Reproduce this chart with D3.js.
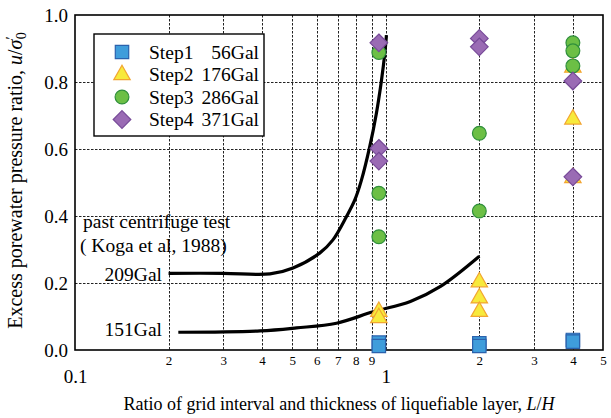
<!DOCTYPE html>
<html>
<head>
<meta charset="utf-8">
<script src="https://cdn.jsdelivr.net/npm/d3@7"></script>
<style>
  html, body { margin: 0; padding: 0; background: #fff; }
  svg text { font-family: "Liberation Serif", "Times New Roman", serif; fill: #000; }
</style>
</head>
<body>
<svg id="chart" width="611" height="418"></svg>
<script>
// Excess porewater pressure ratio vs. L/H for four shaking steps
const seriesNames = ["Step1", "Step2", "Step3", "Step4"];
const seriesGal = ["56Gal", "176Gal", "286Gal", "371Gal"];

// [L/H, u/σ'0]
const step1 = [[0.95, 0.022], [0.95, 0.012], [2, 0.02], [2, 0.012], [4, 0.03], [4, 0.025]];
const step2 = [[0.95, 0.116], [0.95, 0.097], [2, 0.204], [2, 0.156], [2, 0.116], [4, 0.845], [4, 0.69], [4, 0.515]];
const step3 = [[0.95, 0.888], [0.95, 0.468], [0.95, 0.338], [2, 0.647], [2, 0.415], [4, 0.917], [4, 0.893], [4, 0.848]];
const step4 = [[0.95, 0.917], [0.95, 0.602], [0.95, 0.564], [2, 0.93], [2, 0.905], [4, 0.803], [4, 0.517]];

// past centrifuge test curves (Koga et al, 1988)
const curve209 = [[0.2, 0.229], [0.3, 0.229], [0.424, 0.227], [0.503, 0.245], [0.614, 0.29], [0.675, 0.328],
  [0.747, 0.398], [0.795, 0.448], [0.835, 0.507], [0.888, 0.607], [0.933, 0.707], [0.969, 0.806], [0.993, 0.886], [1.005, 0.94]];
const curve151 = [[0.215, 0.053], [0.394, 0.057], [0.516, 0.066], [0.694, 0.08], [0.91, 0.114],
  [1.2, 0.145], [1.5, 0.19], [2.0, 0.28]];

const xMinorTicks = [0.2, 0.3, 0.4, 0.5, 0.6, 0.7, 0.8, 0.9, 2, 3, 4, 5];
const xMajorTicks = [0.1, 1];
const xGrid = [0.2, 0.3, 0.4, 0.5, 0.6, 0.7, 0.8, 0.9, 1, 2, 3, 4];
const yTicks = [0, 0.2, 0.4, 0.6, 0.8, 1.0];
const yGrid = [0.2, 0.4, 0.6, 0.8];

const FONT = '"Liberation Serif", "Times New Roman", serif';
const margin = { left: 75, right: 8, top: 15, bottom: 68 };
const W = 611, H = 418;
const svg = d3.select("#chart");

const x = d3.scaleLog().domain([0.1, 5]).range([margin.left, W - margin.right]);
const y = d3.scaleLinear().domain([0, 1]).range([H - margin.bottom, margin.top]);
const x0 = x.range()[0], x1 = x.range()[1], y0 = y.range()[0], y1 = y.range()[1];

// grid
const grid = svg.append("g").attr("stroke", "#222").attr("stroke-width", 1).attr("stroke-dasharray", "2.5,1.5");
grid.selectAll("line.v").data(xGrid).join("line").attr("class", "v")
  .attr("x1", d => Math.round(x(d)) + 0.5).attr("x2", d => Math.round(x(d)) + 0.5)
  .attr("y1", y1).attr("y2", y0);
grid.selectAll("line.h").data(yGrid).join("line").attr("class", "h")
  .attr("x1", x0).attr("x2", x1)
  .attr("y1", d => Math.round(y(d)) + 0.5).attr("y2", d => Math.round(y(d)) + 0.5);

// frame
svg.append("rect").attr("x", x0).attr("y", y1).attr("width", x1 - x0).attr("height", y0 - y1)
  .attr("fill", "none").attr("stroke", "#000").attr("stroke-width", 1.6);

// axes
const axMinor = svg.append("g").attr("transform", `translate(0,${y0})`)
  .call(d3.axisBottom(x).tickValues(xMinorTicks).tickSize(0).tickPadding(6)
    .tickFormat(d => d < 1 ? Math.round(d * 10) : d));
axMinor.select(".domain").remove();
axMinor.attr("font-family", FONT);
axMinor.selectAll("text").style("font-size", "13px").attr("fill", "#000");

const axMajor = svg.append("g").attr("transform", `translate(0,${y0})`)
  .call(d3.axisBottom(x).tickValues(xMajorTicks).tickSize(0).tickPadding(20)
    .tickFormat(d => d === 1 ? "1" : "0.1"));
axMajor.select(".domain").remove();
axMajor.attr("font-family", FONT);
axMajor.selectAll("text").style("font-size", "19px").attr("fill", "#000");

const axY = svg.append("g").attr("transform", `translate(${x0},0)`)
  .call(d3.axisLeft(y).tickValues(yTicks).tickSize(0).tickPadding(7).tickFormat(d3.format(".1f")));
axY.select(".domain").remove();
axY.attr("font-family", FONT);
axY.selectAll("text").style("font-size", "19px").attr("fill", "#000");

// axis titles
const xt = svg.append("text").attr("x", (x0 + x1) / 2).attr("y", 410)
  .attr("text-anchor", "middle").style("font-size", "18px");
xt.append("tspan").text("Ratio of grid interval and thickness of liquefiable layer, ");
xt.append("tspan").style("font-style", "italic").text("L");
xt.append("tspan").text("/");
xt.append("tspan").style("font-style", "italic").text("H");

const yt = svg.append("text").attr("transform", `translate(22,${(y0 + y1) / 2 - 2}) rotate(-90)`)
  .attr("text-anchor", "middle").style("font-size", "20px");
yt.append("tspan").text("Excess porewater pressure ratio, ");
yt.append("tspan").style("font-style", "italic").text("u");
yt.append("tspan").text("/");
yt.append("tspan").style("font-style", "italic").text("σ");
yt.append("tspan").attr("dy", -6).style("font-size", "15px").text("′");
yt.append("tspan").attr("dy", 10).attr("dx", -3).style("font-size", "14px").text("0");

// reference curves
const line = d3.line().x(d => x(d[0])).y(d => y(d[1])).curve(d3.curveCatmullRom.alpha(0.5));
[curve209, curve151].forEach(c => {
  svg.append("path").datum(c).attr("d", line)
    .attr("fill", "none").attr("stroke", "#000").attr("stroke-width", 3.2).attr("stroke-linecap", "butt");
});

// curve annotations
const ann = svg.append("g").style("font-size", "19.5px");
ann.append("text").attr("x", 83).attr("y", 228).text("past centrifuge test");
ann.append("text").attr("x", 80).attr("y", 252).text("( Koga et al, 1988)");
ann.append("text").attr("x", 162).attr("y", 281).attr("text-anchor", "end").text("209Gal");
ann.append("text").attr("x", 162).attr("y", 336).attr("text-anchor", "end").text("151Gal");

// markers
const styles = [
  { fill: "#3f9ddb", stroke: "#2b62ad", shape: "square" },
  { fill: "#f7ea3c", stroke: "#f2a531", shape: "triangle" },
  { fill: "#6cbf45", stroke: "#2f8f3c", shape: "circle" },
  { fill: "#9a6bb4", stroke: "#774a98", shape: "diamond" }
];
function shapePath(shape) {
  switch (shape) {
    case "square": return "M-6.7,-6.7H6.7V6.7H-6.7Z";
    case "triangle": return "M0,-9.2L8.2,5.2H-8.2Z";
    case "circle": return d3.symbol(d3.symbolCircle, Math.PI * 6.9 * 6.9)();
    case "diamond": return "M0,-8.8L8.8,0L0,8.8L-8.8,0Z";
  }
}
const allSeries = [step1, step2, step3, step4];
allSeries.forEach((pts, i) => {
  const s = styles[i];
  svg.append("g").selectAll("path").data(pts).join("path")
    .attr("transform", d => `translate(${x(d[0])},${y(d[1])})`)
    .attr("d", shapePath(s.shape))
    .attr("fill", s.fill).attr("stroke", s.stroke).attr("stroke-width", 1.2);
});

// legend
const lg = svg.append("g");
lg.append("rect").attr("x", 94).attr("y", 34).attr("width", 170).attr("height", 102)
  .attr("fill", "#fff").attr("stroke", "#000").attr("stroke-width", 1.4);
seriesNames.forEach((name, i) => {
  const cy = 52 + i * 22.5;
  const s = styles[i];
  lg.append("path").attr("transform", `translate(122,${cy})`).attr("d", shapePath(s.shape))
    .attr("fill", s.fill).attr("stroke", s.stroke).attr("stroke-width", 1.2);
  lg.append("text").attr("x", 149).attr("y", cy + 6.5).style("font-size", "19.5px").text(name);
  lg.append("text").attr("x", 259).attr("y", cy + 6.5).attr("text-anchor", "end").style("font-size", "19.5px").text(seriesGal[i]);
});

// make sure every label uses the serif face
svg.selectAll("text").style("font-family", FONT);
</script>
</body>
</html>
